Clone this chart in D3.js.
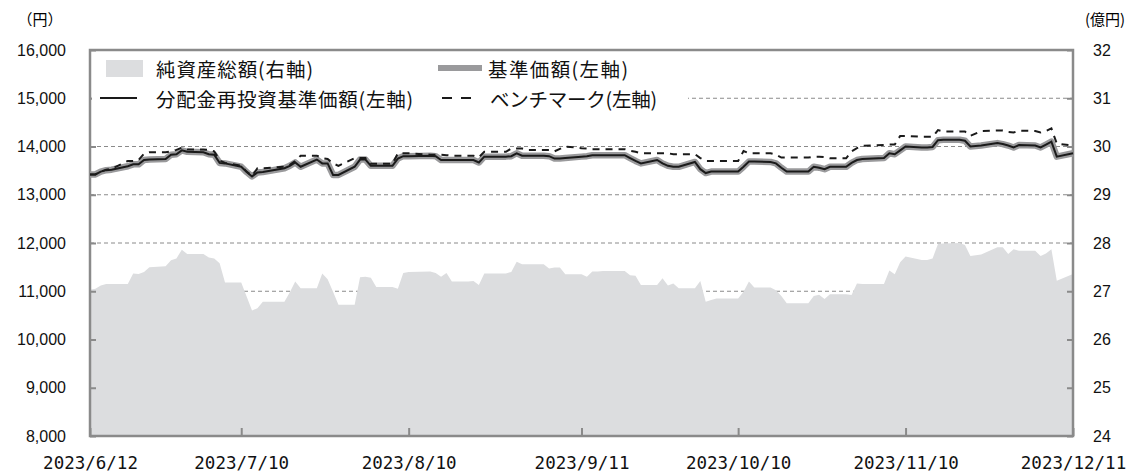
<!DOCTYPE html>
<html>
<head>
<meta charset="utf-8">
<script src="https://cdn.jsdelivr.net/npm/d3@7"></script>
<style>
  body { margin: 0; background: #fff; }
  svg { display: block; }
</style>
</head>
<body>
<svg id="chart" width="1130" height="472"></svg>
<script>

// business days, one line per month
var dates = [
  "2023-06-12","2023-06-13","2023-06-14","2023-06-15","2023-06-16","2023-06-19","2023-06-20","2023-06-21","2023-06-22","2023-06-23","2023-06-26","2023-06-27","2023-06-28","2023-06-29","2023-06-30",
  "2023-07-03","2023-07-04","2023-07-05","2023-07-06","2023-07-07","2023-07-10","2023-07-11","2023-07-12","2023-07-13","2023-07-14","2023-07-18","2023-07-19","2023-07-20","2023-07-21","2023-07-24","2023-07-25","2023-07-26","2023-07-27","2023-07-28","2023-07-31",
  "2023-08-01","2023-08-02","2023-08-03","2023-08-04","2023-08-07","2023-08-08","2023-08-09","2023-08-10","2023-08-14","2023-08-15","2023-08-16","2023-08-17","2023-08-18","2023-08-21","2023-08-22","2023-08-23","2023-08-24","2023-08-25","2023-08-28","2023-08-29","2023-08-30","2023-08-31",
  "2023-09-01","2023-09-04","2023-09-05","2023-09-06","2023-09-07","2023-09-08","2023-09-11","2023-09-12","2023-09-13","2023-09-14","2023-09-15","2023-09-19","2023-09-20","2023-09-21","2023-09-22","2023-09-25","2023-09-26","2023-09-27","2023-09-28","2023-09-29",
  "2023-10-02","2023-10-03","2023-10-04","2023-10-05","2023-10-06","2023-10-10","2023-10-11","2023-10-12","2023-10-13","2023-10-16","2023-10-17","2023-10-18","2023-10-19","2023-10-20","2023-10-23","2023-10-24","2023-10-25","2023-10-26","2023-10-27","2023-10-30","2023-10-31",
  "2023-11-01","2023-11-02","2023-11-06","2023-11-07","2023-11-08","2023-11-09","2023-11-10","2023-11-13","2023-11-14","2023-11-15","2023-11-16","2023-11-17","2023-11-20","2023-11-21","2023-11-22","2023-11-24","2023-11-27","2023-11-28","2023-11-29","2023-11-30",
  "2023-12-01","2023-12-04","2023-12-05","2023-12-06","2023-12-07","2023-12-08","2023-12-11"
];

// 基準価額 (円) — 分配金再投資基準価額 is the same (no distributions)
var navValues = [
  13420,13420,13480,13510,13520,13590,13630,13630,13720,13730,13740,13830,13840,13920,13890,
  13880,13840,13830,13660,13650,13580,13470,13380,13460,13470,13550,13600,13670,13580,13730,13650,13650,13410,13410,13580,
  13730,13730,13600,13600,13600,13750,13800,13800,13810,13800,13720,13720,13720,13720,13720,13670,13790,13790,13790,13800,13860,13810,
  13810,13810,13800,13750,13750,13760,13790,13800,13820,13820,13820,13820,13760,13700,13650,13720,13650,13600,13580,13580,
  13680,13530,13450,13480,13480,13480,13580,13690,13690,13680,13650,13560,13480,13480,13480,13580,13560,13530,13580,13580,13660,
  13720,13740,13760,13860,13840,13920,14000,13980,13980,13990,14130,14140,14140,14120,14000,14020,14070,14050,14020,13980,
  14030,14020,13980,14040,14100,13790,13860
];
var reinvestValues = navValues.slice();

// ベンチマーク (円)
var benchValues = [
  13420,13420,13480,13520,13540,13700,13700,13720,13850,13880,13880,13900,13930,13975,13940,
  13940,13930,13900,13710,13660,13600,13480,13390,13550,13550,13580,13620,13700,13810,13810,13760,13740,13650,13600,13760,
  13760,13760,13640,13640,13640,13860,13860,13860,13830,13830,13830,13820,13810,13810,13810,13780,13890,13890,13890,13960,13960,13960,
  13930,13930,13930,13900,13950,14000,13965,13960,13945,13945,13945,13945,13910,13890,13860,13860,13860,13860,13840,13840,
  13840,13760,13700,13700,13700,13700,13905,13860,13860,13860,13830,13770,13770,13770,13770,13790,13790,13780,13755,13755,13900,
  13965,14015,14030,14040,14040,14220,14220,14200,14200,14200,14340,14310,14310,14310,14220,14320,14330,14330,14300,14290,
  14330,14320,14290,14320,14375,14060,14020
];

// 純資産総額 (億円)
var assetValues = [
  27.03,27.05,27.12,27.15,27.15,27.15,27.37,27.36,27.40,27.50,27.52,27.64,27.68,27.86,27.77,
  27.77,27.70,27.68,27.58,27.18,27.18,26.89,26.60,26.65,26.78,26.78,26.98,27.20,27.06,27.06,27.37,27.25,26.99,26.72,26.72,
  27.29,27.30,27.28,27.09,27.09,27.05,27.38,27.40,27.41,27.38,27.30,27.38,27.20,27.20,27.21,27.13,27.37,27.37,27.37,27.40,27.61,27.56,
  27.56,27.56,27.47,27.49,27.49,27.35,27.35,27.30,27.41,27.41,27.42,27.42,27.33,27.32,27.13,27.13,27.27,27.12,27.16,27.06,
  27.06,27.21,26.78,26.82,26.85,26.85,26.99,27.20,27.08,27.08,27.02,26.90,26.75,26.75,26.75,26.90,26.93,26.84,26.94,26.94,26.92,
  27.16,27.15,27.15,27.43,27.35,27.60,27.72,27.65,27.65,27.68,27.98,27.99,28.00,27.96,27.73,27.76,27.91,27.91,27.77,27.87,
  27.84,27.84,27.73,27.78,27.87,27.22,27.36
];

var xTickDates = ["2023-06-12","2023-07-10","2023-08-10","2023-09-11","2023-10-10","2023-11-10","2023-12-11"];
var leftTicks = [8000,9000,10000,11000,12000,13000,14000,15000,16000];
var rightTicks = [24,25,26,27,28,29,30,31,32];

var legendNames = ["純資産総額(右軸)","基準価額(左軸)","分配金再投資基準価額(左軸)","ベンチマーク(左軸)"];

var parse = d3.timeParse("%Y-%m-%d");
var rows = dates.map(function(d, i){
  return {date: parse(d), nav: navValues[i], reinvest: reinvestValues[i], bench: benchValues[i], assets: assetValues[i]};
});

var plotLeft = 90, plotRight = 1073, plotTop = 50, plotBottom = 436;
var frameColor = "#8a8a8a";
var areaColor = "#dcdddf";
var jpFont = "'Noto Sans CJK JP', sans-serif";

var svg = d3.select("#chart");

var x = d3.scaleTime()
  .domain([parse(dates[0]), parse(dates[dates.length - 1])])
  .range([plotLeft, plotRight]);
var yL = d3.scaleLinear().domain([8000, 16000]).range([plotBottom, plotTop]);
var yR = d3.scaleLinear().domain([24, 32]).range([plotBottom, plotTop]);

//grid lines (behind the area)
svg.append("g")
  .selectAll("line")
  .data(leftTicks.slice(1, -1))
  .enter()
  .append("line")
  .attr("x1", plotLeft).attr("x2", plotRight)
  .attr("y1", function(d){ return yL(d); })
  .attr("y2", function(d){ return yL(d); })
  .attr("stroke", "#8a8a8a")
  .attr("stroke-width", 1)
  .attr("stroke-dasharray", "4,3");

//net assets area on the right axis
var area = d3.area()
  .x(function(d){ return x(d.date); })
  .y0(plotBottom)
  .y1(function(d){ return yR(d.assets); });

svg.append("path")
  .datum(rows)
  .attr("d", area)
  .attr("fill", areaColor);

//axes
var axisLeft = svg.append("g")
  .attr("transform", "translate(" + plotLeft + ",0)")
  .call(d3.axisLeft(yL).tickValues(leftTicks).tickSize(-6).tickPadding(24).tickFormat(d3.format(",")));

var axisRight = svg.append("g")
  .attr("transform", "translate(" + plotRight + ",0)")
  .call(d3.axisRight(yR).tickValues(rightTicks).tickSize(-6).tickPadding(20).tickFormat(d3.format("d")));

var axisBottom = svg.append("g")
  .attr("transform", "translate(0," + plotBottom + ")")
  .call(d3.axisBottom(x).tickValues(xTickDates.map(parse)).tickSize(-8).tickPadding(21)
    .tickFormat(d3.timeFormat("%Y/%-m/%-d")));

[axisLeft, axisRight].forEach(function(g){
  g.selectAll("text")
    .style("font-family", "'Liberation Sans', Arial, sans-serif")
    .style("font-size", "16px")
    .attr("fill", "#111");
});
axisBottom.selectAll("text")
  .style("font-family", "'DejaVu Sans Mono', monospace")
  .style("font-size", "17.5px")
  .attr("fill", "#111");

[axisLeft, axisRight, axisBottom].forEach(function(g){
  g.select(".domain").remove();
  g.selectAll(".tick line").attr("stroke", frameColor).attr("stroke-width", 2);
});

//frame
svg.append("rect")
  .attr("x", plotLeft).attr("y", plotTop)
  .attr("width", plotRight - plotLeft).attr("height", plotBottom - plotTop)
  .attr("fill", "none")
  .attr("stroke", frameColor)
  .attr("stroke-width", 2.5);

//unit labels
svg.append("text")
  .attr("x", 40).attr("y", 18)
  .attr("text-anchor", "middle").attr("dominant-baseline", "central")
  .style("font-family", jpFont).style("font-size", "15px")
  .text("（円）");
svg.append("text")
  .attr("x", 1105).attr("y", 18)
  .attr("text-anchor", "middle").attr("dominant-baseline", "central")
  .style("font-family", jpFont).style("font-size", "15px")
  .text("(億円)");

//price lines
var lineOf = function(key){
  return d3.line()
    .x(function(d){ return x(d.date); })
    .y(function(d){ return yL(d[key]); });
};

svg.append("path")
  .datum(rows)
  .attr("d", lineOf("nav"))
  .attr("fill", "none")
  .attr("stroke", "#9a9a9c")
  .attr("stroke-width", 6.5)
  .attr("stroke-linejoin", "round");

svg.append("path")
  .datum(rows)
  .attr("d", lineOf("reinvest"))
  .attr("fill", "none")
  .attr("stroke", "#1a1a1a")
  .attr("stroke-width", 2);

svg.append("path")
  .datum(rows)
  .attr("d", lineOf("bench"))
  .attr("fill", "none")
  .attr("stroke", "#1a1a1a")
  .attr("stroke-width", 2)
  .attr("stroke-dasharray", "7,6");

//legend
var legend = svg.append("g");
legend.append("rect")
  .attr("x", 92).attr("y", 52)
  .attr("width", 596).attr("height", 62)
  .attr("fill", "#fff");

legend.append("rect")
  .attr("x", 106).attr("y", 60).attr("width", 37).attr("height", 17)
  .attr("fill", areaColor);
legend.append("line")
  .attr("x1", 438).attr("x2", 482).attr("y1", 68).attr("y2", 68)
  .attr("stroke", "#9a9a9c").attr("stroke-width", 6);
legend.append("line")
  .attr("x1", 100).attr("x2", 137).attr("y1", 98).attr("y2", 98)
  .attr("stroke", "#1a1a1a").attr("stroke-width", 2);
legend.append("line")
  .attr("x1", 442).attr("x2", 472).attr("y1", 98).attr("y2", 98)
  .attr("stroke", "#1a1a1a").attr("stroke-width", 2)
  .attr("stroke-dasharray", "10,9");

var legendPos = [[156, 68, 157], [488, 68, 140], [156, 98, 257], [490, 98, 167]];
legend.selectAll("text.item")
  .data(legendNames)
  .enter()
  .append("text")
  .attr("class", "item")
  .attr("x", function(d, i){ return legendPos[i][0]; })
  .attr("y", function(d, i){ return legendPos[i][1]; })
  .attr("textLength", function(d, i){ return legendPos[i][2]; })
  .attr("lengthAdjust", "spacing")
  .attr("dominant-baseline", "central")
  .style("font-family", jpFont)
  .style("font-size", "19.5px")
  .attr("fill", "#111")
  .text(function(d){ return d; });

</script>
</body>
</html>
